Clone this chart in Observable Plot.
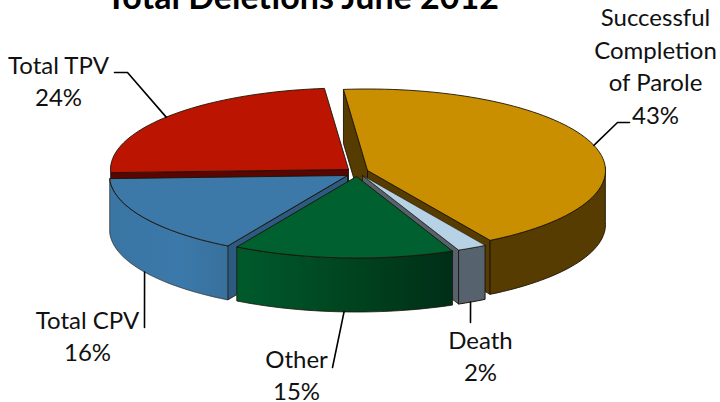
<!DOCTYPE html>
<html><head><meta charset="utf-8">
<script src="https://cdn.jsdelivr.net/npm/d3@7"></script>
<script src="https://cdn.jsdelivr.net/npm/@observablehq/plot@0.6"></script>
<style>html,body{margin:0;padding:0;background:#fff}svg{display:block}</style>
</head><body><div id="chart"></div>
<script>
const categories = ["Successful Completion of Parole", "Death", "Other", "Total CPV", "Total TPV"];
const percents = [43, 2, 15, 16, 24];
const labelLines = ["Successful\nCompletion\nof Parole\n43%", "Death\n2%", "Other\n15%", "Total CPV\n16%", "Total TPV\n24%"];
const titleText = "Total Deletions June 2012";

// layout of the exploded 3-D pie
const W = 720, H = 402, RX = 238, RY = 81.5, DEPTH = 54, START = -5.8;
const apexX = [367, 362, 356, 347, 348];
const apexY = [170, 175, 176, 175, 169];
const topFill = ["#c98f00", "#b6d2e4", "#00602f", "#3c79a8", "#bb1400"];
const rimFill = ["#563c00", "#56636f", "url(#greenRim)", "url(#blueRim)", "#7a0c00"];
const cutFill = ["#563c00", "#56636f", "#003d1e", "#2c5a80", "#5a0500"];
const edge = "#1c1408";

// slice angles from the values
let acc = START;
const slices = percents.map((p, i) => {
  const a0 = acc, a1 = acc + p * 3.6; acc = a1;
  return {i, a0, a1, cx: apexX[i], cy: apexY[i]};
});
const pt = (s, a, dz = 0) => {
  const t = a * Math.PI / 180;
  return [s.cx + RX * Math.sin(t), s.cy - RY * Math.cos(t) + dz];
};
const arc = (s, a0, a1, dz = 0) => {
  const n = Math.max(2, Math.ceil(Math.abs(a1 - a0) / 2));
  return d3.range(n + 1).map(k => pt(s, a0 + (a1 - a0) * k / n, dz));
};
const closed = p => [...p, p[0]];
const topFace = s => closed([[s.cx, s.cy], ...arc(s, s.a0, s.a1)]);
const rim = (s, a0, a1) => closed([...arc(s, a0, a1), ...arc(s, a1, a0, DEPTH)]);
const cut = (s, a) => { const e = pt(s, a), f = pt(s, a, DEPTH);
  return closed([[s.cx, s.cy], e, f, [s.cx, s.cy + DEPTH]]); };
const poly = (pts, fill, sw = 0.9) => Plot.line(pts, {x: d => d[0], y: d => d[1], fill, stroke: edge, strokeWidth: sw, curve: "linear", strokeLinejoin: "round"});

const [orange, death, other, cpv, tpv] = slices;
const gradient = () => {
  const svg = d3.create("svg:g");
  const defs = svg.append("defs");
  const add = (id, stops) => {
    const g = defs.append("linearGradient").attr("id", id).attr("x1", 0).attr("x2", 1).attr("y1", 0).attr("y2", 0);
    stops.forEach(([o, c]) => g.append("stop").attr("offset", o).attr("stop-color", c));
  };
  add("greenRim", [[0, "#005a2c"], [0.5, "#00451f"], [1, "#002e18"]]);
  add("blueRim", [[0, "#3a75a3"], [0.6, "#3b79aa"], [1, "#38709c"]]);
  return svg.node();
};

// leader lines: anchored on the slice rim, then to the label
const leaders = [
  [pt(orange, 72), [617, 122], [629, 122]],
  [pt(death, 153, DEPTH), [470, 322]],
  [pt(other, 183, DEPTH), [332, 367]],
  [pt(cpv, 238.5, DEPTH), [144, 327]],
  [pt(tpv, 310), [127, 72], [114, 72]]
];
const labelX = [655, 480, 296, 87, 58];
const labelY = [64, 354, 373, 334, 79];

const marks = [
  gradient,
  // back to front
  poly(cut(tpv, tpv.a0), cutFill[4]),
  poly(topFace(tpv), topFill[4]),
  poly(cut(orange, orange.a0), cutFill[0]),
  poly(cut(orange, orange.a1), cutFill[0]),
  poly(rim(orange, 88, orange.a1), rimFill[0]),
  poly(topFace(orange), topFill[0]),
  poly(cut(cpv, cpv.a0), cutFill[3], 0.8),
  poly(rim(cpv, cpv.a0, cpv.a1), rimFill[3], 0.6),
  poly(topFace(cpv), topFill[3]),
  poly(rim(death, death.a0, death.a1), rimFill[1], 1),
  poly(cut(death, death.a1), cutFill[1], 0.8),
  poly(topFace(death), topFill[1], 0.6),
  poly(rim(other, other.a0, other.a1), rimFill[2], 0.8),
  poly(topFace(other), topFill[2]),
  ...leaders.map(l => Plot.line(l, {x: d => d[0], y: d => d[1], stroke: "#000", strokeWidth: 1.6})),
  Plot.text(labelLines, {x: (d, i) => labelX[i], y: (d, i) => labelY[i], text: d => d, textAnchor: "middle", lineAnchor: "middle", lineHeight: 1.354, fontSize: 24, fill: "#111"}),
  Plot.text([titleText], {x: [302], y: [-2], text: d => d, textAnchor: "middle", lineAnchor: "middle", fontSize: 34, fontWeight: 700, fill: "#000"})
];

const chart = Plot.plot({
  width: W, height: H, margin: 0,
  style: {fontFamily: "Lato, sans-serif", background: "#fff", overflow: "hidden"},
  x: {domain: [0, W], range: [0, W], axis: null},
  y: {domain: [0, H], range: [0, H], axis: null},
  marks
});
document.getElementById("chart").append(chart);
</script></body></html>
